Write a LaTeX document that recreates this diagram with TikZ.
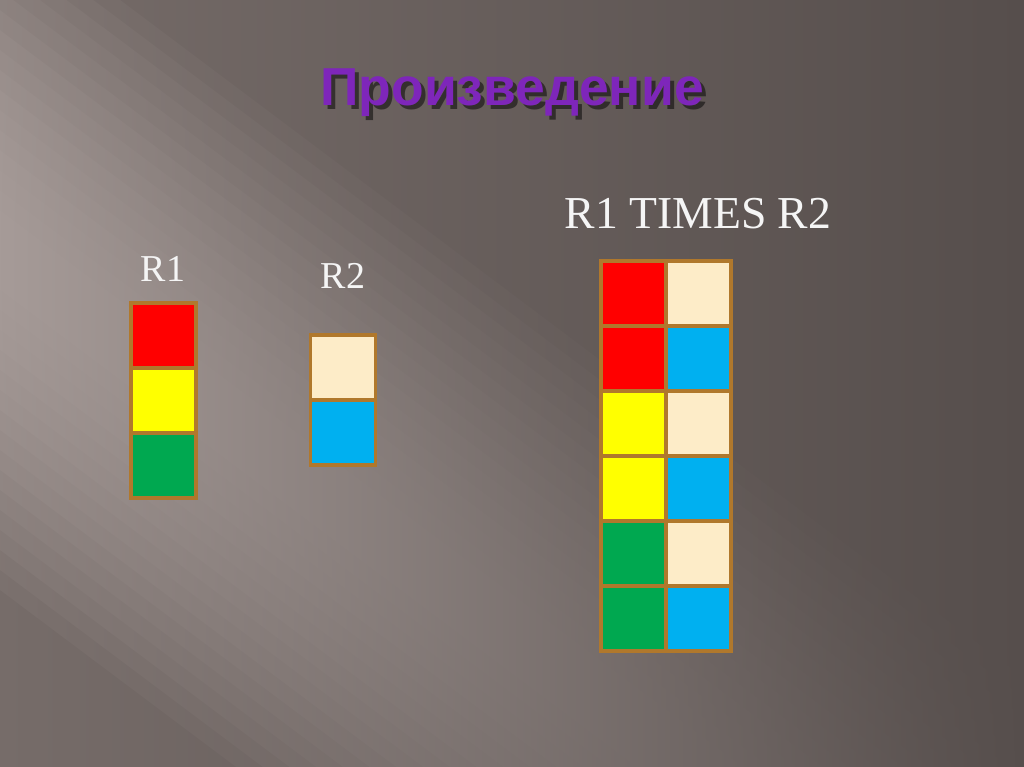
\documentclass[tikz,border=0pt]{standalone}
\usepackage{fontspec}
\setmainfont{Liberation Serif}
\newfontfamily\titlefont{Liberation Sans}
\usetikzlibrary{positioning}
\definecolor{bgleft}{RGB}{118,108,105}
\definecolor{bgmid}{RGB}{102,93,91}
\definecolor{bgright}{RGB}{86,78,76}
\definecolor{bglift}{RGB}{215,203,200}
\definecolor{cellborder}{RGB}{176,120,44}
\definecolor{cellred}{RGB}{255,0,0}
\definecolor{cellyellow}{RGB}{255,255,0}
\definecolor{cellgreen}{RGB}{0,168,80}
\definecolor{cellcream}{RGB}{253,236,200}
\definecolor{cellblue}{RGB}{0,176,240}
\definecolor{titlepurple}{RGB}{126,38,186}
\tikzset{
    cell/.style={rectangle, draw=cellborder, line width=2.3pt, minimum width=1.625cm, minimum height=1.625cm, inner sep=0pt, outer sep=0pt},
    rellabel/.style={text=white!96!black, inner sep=0pt, font=\fontsize{27}{32}\selectfont},
    titletext/.style={font=\titlefont\bfseries\fontsize{38}{44}\selectfont},
    backdrop/.style={left color=bglift!#1!bgleft, middle color=bgmid, right color=bgright}
}

\begin{document}
\begin{tikzpicture}[x=0.025cm, y=-0.025cm]
    \useasboundingbox (0,0) rectangle (1024,767);
    % Background
    \begin{scope}
        \clip (0,0) rectangle (1024,767);
        \shade[backdrop=0] (0,0) rectangle (1024,767);
        % light diagonal band, brighter towards its middle
        \foreach \h in {340,320,...,20} {
            \pgfmathtruncatemacro\lift{50*(1-(\h/360)^2)}
            \begin{scope}
                \clip (-20,235-\h) -- (1050,1037-\h) -- (1050,1037+\h) -- (-20,235+\h) -- cycle;
                \shade[backdrop=\lift] (0,0) rectangle (1024,767);
            \end{scope}
        }
    \end{scope}

    % Title with shadow
    \node[titletext, text=black, opacity=0.5] (titleshadow) at (516,97) {Произведение};
    \node[titletext, text=titlepurple] (title) at (512,93) {Произведение};

    % Labels
    \node[rellabel] (labr1) at (163,269) {R1};
    \node[rellabel] (labr2) at (343,276) {R2};
    \node[rellabel, font=\fontsize{32.5}{38}\selectfont] (labprod) at (698,214) {R1 TIMES R2};

    % R1
    \node[cell, fill=cellred] (r1a) at (163.5,335.5) {};
    \node[cell, fill=cellyellow, below=0pt of r1a] (r1b) {};
    \node[cell, fill=cellgreen, below=0pt of r1b] (r1c) {};

    % R2
    \node[cell, fill=cellcream] (r2a) at (343,367.5) {};
    \node[cell, fill=cellblue, below=0pt of r2a] (r2b) {};

    % R1 TIMES R2
    \foreach \lc/\rc [count=\i] in {cellred/cellcream, cellred/cellblue, cellyellow/cellcream, cellyellow/cellblue, cellgreen/cellcream, cellgreen/cellblue} {
        \node[cell, fill=\lc] (pl\i) at (633.5,228.5+65*\i) {};
        \node[cell, fill=\rc, right=0pt of pl\i] (pr\i) {};
    }
\end{tikzpicture}
\end{document}
